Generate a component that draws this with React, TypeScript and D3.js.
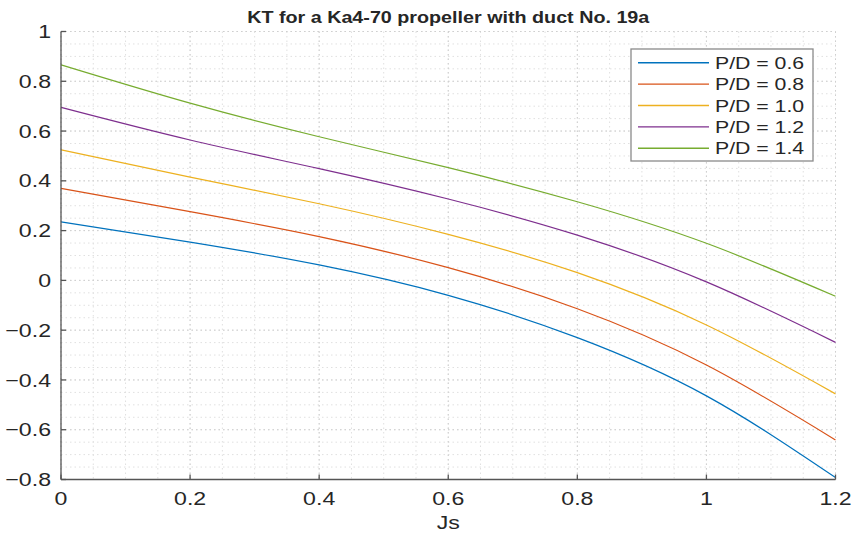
import React from "react";
import * as d3 from "d3";

// Advance coefficients Js sampled every 0.2
const js = [0, 0.2, 0.4, 0.6, 0.8, 1.0, 1.2];

// Thrust coefficient KT for each pitch ratio
const ktPD06 = [0.235, 0.154, 0.062, -0.06, -0.23, -0.464, -0.792];
const ktPD08 = [0.37, 0.276, 0.176, 0.051, -0.114, -0.34, -0.641];
const ktPD10 = [0.525, 0.415, 0.308, 0.185, 0.031, -0.179, -0.456];
const ktPD12 = [0.695, 0.564, 0.449, 0.327, 0.182, -0.006, -0.249];
const ktPD14 = [0.866, 0.712, 0.577, 0.453, 0.316, 0.149, -0.064];

const seriesLabels = ["P/D = 0.6", "P/D = 0.8", "P/D = 1.0", "P/D = 1.2", "P/D = 1.4"];
const seriesValues = [ktPD06, ktPD08, ktPD10, ktPD12, ktPD14];
const seriesColors = ["#0072BD", "#D95319", "#EDB120", "#7E2F8E", "#77AC30"];

const xTicks = [0, 0.2, 0.4, 0.6, 0.8, 1, 1.2];
const yTicks = [-0.8, -0.6, -0.4, -0.2, 0, 0.2, 0.4, 0.6, 0.8, 1];

const W = 856;
const H = 537;
const plot = { left: 61, right: 835.5, top: 31.5, bottom: 479.5 };
const FONT = "'Liberation Sans', Arial, Helvetica, sans-serif";
const AXIS = "#262626";

function Stretched({ x, y, anchor, size, weight, sx = 1.25, children }: any) {
  return (
    <text
      transform={`translate(${x},${y}) scale(${sx},1)`}
      textAnchor={anchor}
      fontFamily={FONT}
      fontSize={size}
      fontWeight={weight || "normal"}
      fill={AXIS}
    >
      {children}
    </text>
  );
}

export default function App() {
  const x = d3.scaleLinear().domain([0, 1.2]).range([plot.left, plot.right]);
  const y = d3.scaleLinear().domain([-0.8, 1]).range([plot.bottom, plot.top]);

  const xMinor = d3.range(0, 1.2001, 0.05);
  const yMinor = d3.range(-0.8, 1.0001, 0.05);

  const line = d3
    .line<[number, number]>()
    .x((d) => x(d[0]))
    .y((d) => y(d[1]))
    .curve(d3.curveNatural);

  const fmt = (v: number) => (Math.abs(v) < 1e-9 ? "0" : d3.format("~g")(+v.toFixed(2)));

  const legend = { x: 631, y: 49, w: 182, h: 112, row0: 62.7, step: 21.4 };

  return (
    <svg
      width={W}
      height={H}
      style={{ position: "absolute", left: 0, top: 0, background: "#fff" }}
    >
      {/* minor grid */}
      <g stroke="#e0e0e0" strokeWidth={1} strokeDasharray="1.5,3">
        {xMinor.map((v, i) => (
          <line key={"xm" + i} x1={x(v)} x2={x(v)} y1={plot.top} y2={plot.bottom} />
        ))}
        {yMinor.map((v, i) => (
          <line key={"ym" + i} x1={plot.left} x2={plot.right} y1={y(v)} y2={y(v)} />
        ))}
      </g>
      {/* major grid */}
      <g stroke="#cfcfcf" strokeWidth={1} strokeDasharray="1.5,3">
        {xTicks.map((v, i) => (
          <line key={"xg" + i} x1={x(v)} x2={x(v)} y1={plot.top} y2={plot.bottom} />
        ))}
        {yTicks.map((v, i) => (
          <line key={"yg" + i} x1={plot.left} x2={plot.right} y1={y(v)} y2={y(v)} />
        ))}
      </g>

      {/* curves */}
      {seriesValues.map((vals, i) => (
        <path
          key={seriesLabels[i]}
          d={line(js.map((j, k) => [j, vals[k]] as [number, number])) || ""}
          fill="none"
          stroke={seriesColors[i]}
          strokeWidth={1.2}
        />
      ))}

      {/* axes */}
      <g stroke="#555" strokeWidth={1.3}>
        <line x1={plot.left} x2={plot.left} y1={plot.top} y2={plot.bottom} />
        <line x1={plot.left} x2={plot.right} y1={plot.bottom} y2={plot.bottom} />
        {xTicks.map((v, i) => (
          <line key={"xt" + i} x1={x(v)} x2={x(v)} y1={plot.bottom} y2={plot.bottom - 5} />
        ))}
        {yTicks.map((v, i) => (
          <line key={"yt" + i} x1={plot.left} x2={plot.left + 5} y1={y(v)} y2={y(v)} />
        ))}
      </g>

      {/* tick labels */}
      {xTicks.map((v, i) => (
        <Stretched key={"xl" + i} x={x(v)} y={505} anchor="middle" size={18.5}>
          {fmt(v)}
        </Stretched>
      ))}
      {yTicks.map((v, i) => (
        <Stretched key={"yl" + i} x={51} y={y(v) + 6.6} anchor="end" size={18.5}>
          {fmt(v)}
        </Stretched>
      ))}

      {/* axis label and title */}
      <Stretched x={(plot.left + plot.right) / 2} y={529} anchor="middle" size={18.5}>
        Js
      </Stretched>
      <Stretched
        x={(plot.left + plot.right) / 2}
        y={23}
        anchor="middle"
        size={17}
        sx={1.16}
        weight="bold"
      >
        KT for a Ka4-70 propeller with duct No. 19a
      </Stretched>

      {/* legend */}
      <rect
        x={legend.x}
        y={legend.y}
        width={legend.w}
        height={legend.h}
        fill="#fff"
        stroke="#8a8a8a"
        strokeWidth={1.3}
      />
      {seriesLabels.map((lab, i) => {
        const ly = legend.row0 + i * legend.step;
        return (
          <g key={"lg" + i}>
            <line x1={638} x2={709} y1={ly} y2={ly} stroke={seriesColors[i]} strokeWidth={1.4} />
            <Stretched x={715} y={ly + 6} anchor="start" size={17}>
              {lab}
            </Stretched>
          </g>
        );
      })}
    </svg>
  );
}
